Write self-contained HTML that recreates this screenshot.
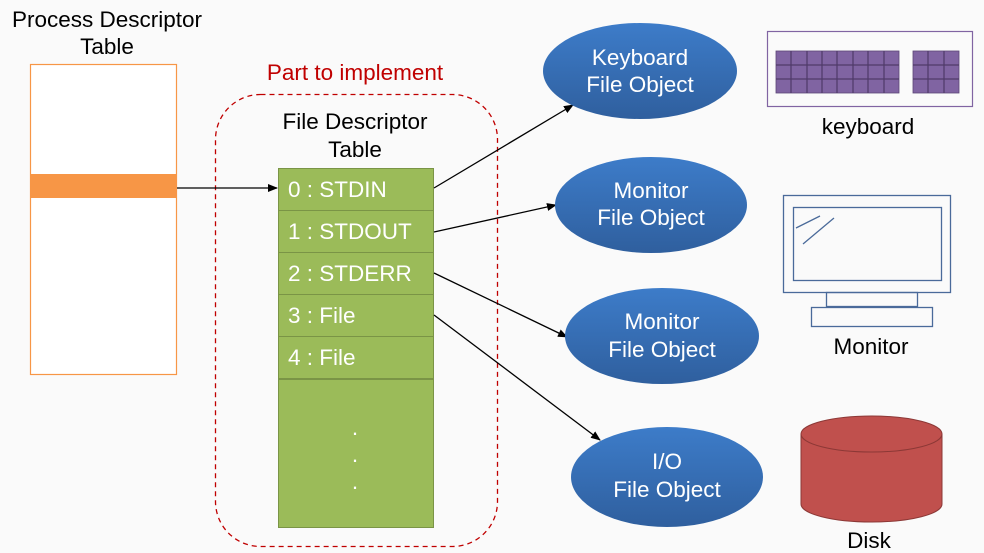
<!DOCTYPE html>
<html><head><meta charset="utf-8"><style>
html,body{margin:0;padding:0;background:#fafafa;}
svg{display:block;}
text{font-family:"Liberation Sans",sans-serif;}
</style></head><body>
<svg width="984" height="553" viewBox="0 0 984 553" xmlns="http://www.w3.org/2000/svg">
<defs>
<linearGradient id="bl" x1="0" y1="0" x2="0" y2="1"><stop offset="0" stop-color="#3d7cc9"/><stop offset="1" stop-color="#2f5f9e"/></linearGradient>
<marker id="ar" markerWidth="10" markerHeight="8" refX="9" refY="4" orient="auto" markerUnits="userSpaceOnUse"><path d="M0,0 L10,4 L0,8 Z" fill="#000"/></marker>
</defs>
<rect width="984" height="553" fill="#fafafa"/>
<text x="107" y="27" font-size="22.5" text-anchor="middle" fill="#000">Process Descriptor</text>
<text x="107" y="54" font-size="22.5" text-anchor="middle" fill="#000">Table</text>
<rect x="30.5" y="64.5" width="146" height="310" fill="#fff" stroke="#f79646" stroke-width="1.2"/>
<rect x="30" y="174" width="147" height="24" fill="#f79646"/>
<text x="355" y="80" font-size="22.5" text-anchor="middle" fill="#c00000">Part to implement</text>
<rect x="215.5" y="94.5" width="282" height="452" rx="45" fill="none" stroke="#c00000" stroke-width="1.3" stroke-dasharray="5,4"/>
<text x="355" y="129" font-size="22.5" text-anchor="middle" fill="#000">File Descriptor</text>
<text x="355" y="157" font-size="22.5" text-anchor="middle" fill="#000">Table</text>
<g fill="#9bbb59" stroke="#7a9446" stroke-width="1">
<rect x="278.5" y="168.5" width="155" height="42"/>
<rect x="278.5" y="210.5" width="155" height="42"/>
<rect x="278.5" y="252.5" width="155" height="42"/>
<rect x="278.5" y="294.5" width="155" height="42"/>
<rect x="278.5" y="336.5" width="155" height="42"/>
<rect x="278.5" y="379.5" width="155" height="148"/>
</g>
<g font-size="22.5" fill="#fff">
<text x="288" y="197">0 : STDIN</text>
<text x="288" y="239">1 : STDOUT</text>
<text x="288" y="281">2 : STDERR</text>
<text x="288" y="323">3 : File</text>
<text x="288" y="365">4 : File</text>
<text x="355" y="435" text-anchor="middle">.</text>
<text x="355" y="462" text-anchor="middle">.</text>
<text x="355" y="489" text-anchor="middle">.</text>
</g>
<g stroke="#000" stroke-width="1.3" marker-end="url(#ar)">
<line x1="177" y1="188" x2="277" y2="188"/>
<line x1="434" y1="188" x2="573" y2="105"/>
<line x1="434" y1="232" x2="556" y2="205"/>
<line x1="434" y1="273" x2="567" y2="337"/>
<line x1="434" y1="315" x2="600" y2="440"/>
</g>
<g fill="url(#bl)">
<ellipse cx="640" cy="71" rx="97" ry="48"/>
<ellipse cx="651" cy="205" rx="96" ry="48"/>
<ellipse cx="662" cy="336" rx="97" ry="48"/>
<ellipse cx="667" cy="477" rx="96" ry="50"/>
</g>
<g font-size="22.5" fill="#fff" text-anchor="middle">
<text x="640" y="65">Keyboard</text><text x="640" y="92">File Object</text>
<text x="651" y="198">Monitor</text><text x="651" y="225">File Object</text>
<text x="662" y="329">Monitor</text><text x="662" y="357">File Object</text>
<text x="667" y="469">I/O</text><text x="667" y="497">File Object</text>
</g>
<rect x="767.5" y="31.5" width="205" height="75" fill="#fafafa" stroke="#8064a2" stroke-width="1.2"/>
<g fill="#8064a2" stroke="#5c4577" stroke-width="0.8">
<rect x="776" y="51" width="123" height="42"/>
<rect x="913" y="51" width="46" height="42"/>
</g>
<g stroke="#4f3a68" stroke-width="1.2">
<path d="M791,51V93M807,51V93M822,51V93M837,51V93M853,51V93M868,51V93M884,51V93M776,65H899M776,79H899M928,51V93M944,51V93M913,65H959M913,79H959"/>
</g>
<text x="868" y="134" font-size="22.5" text-anchor="middle" fill="#000">keyboard</text>
<g fill="none" stroke="#4a6a9a" stroke-width="1.3">
<rect x="783.5" y="195.5" width="167" height="97"/>
<rect x="793.5" y="207.5" width="148" height="73"/>
<rect x="826.5" y="292.5" width="91" height="14"/>
<rect x="811.5" y="307.5" width="121" height="19"/>
<line x1="796" y1="228" x2="820" y2="216"/>
<line x1="803" y1="244" x2="834" y2="218"/>
</g>
<text x="871" y="354" font-size="22.5" text-anchor="middle" fill="#000">Monitor</text>
<path d="M801,434 V504 A70.5,18 0 0 0 942,504 V434 Z" fill="#c0504d" stroke="#8c3836" stroke-width="1"/>
<ellipse cx="871.5" cy="434" rx="70.5" ry="18" fill="#c0504d" stroke="#8c3836" stroke-width="1"/>
<text x="869" y="548" font-size="22.5" text-anchor="middle" fill="#000">Disk</text>
</svg>
</body></html>
